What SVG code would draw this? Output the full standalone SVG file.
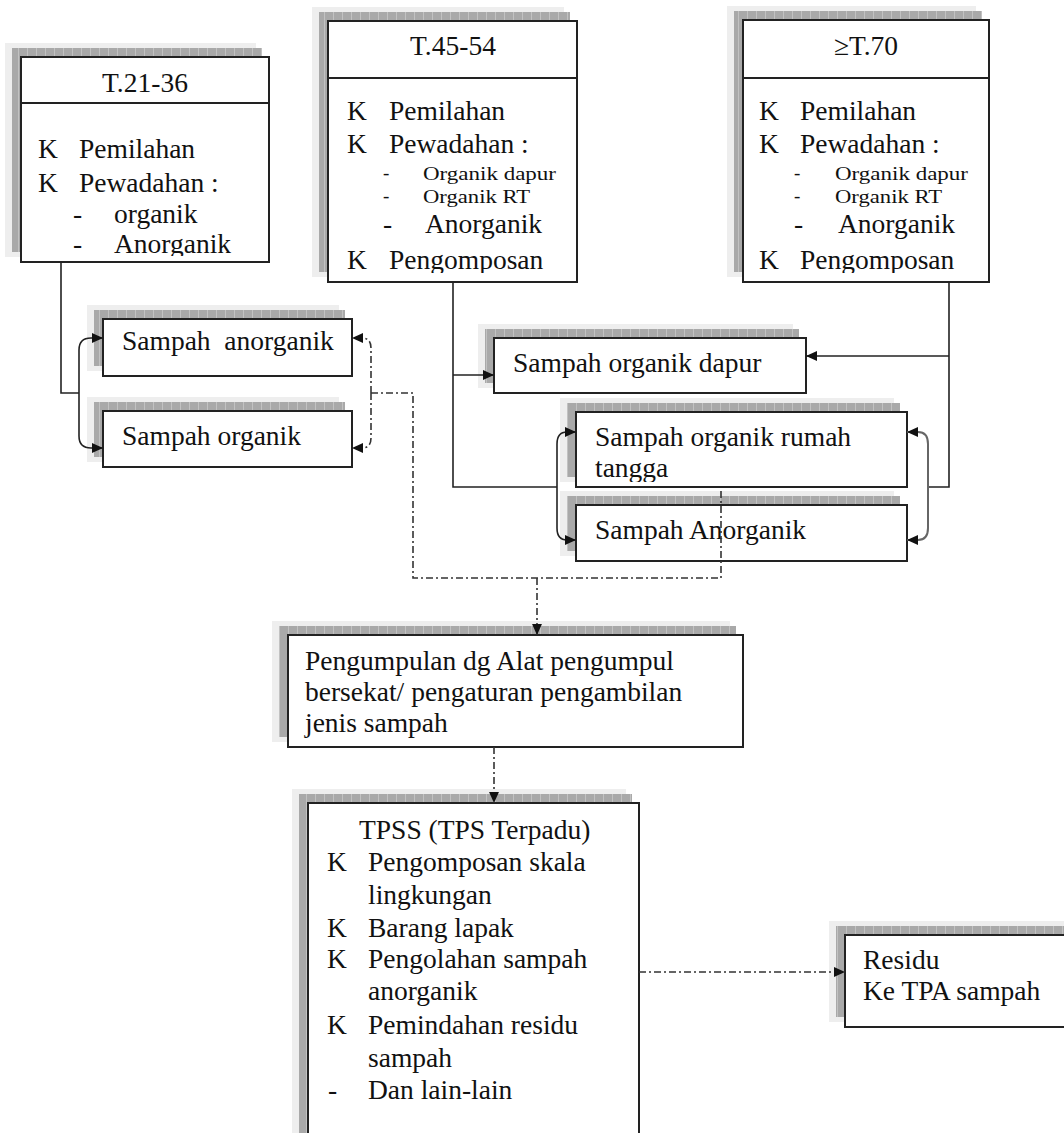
<svg xmlns="http://www.w3.org/2000/svg" width="1064" height="1133" viewBox="0 0 1064 1133">
<style>
text{font-family:"Liberation Serif","Times New Roman",serif;font-size:27.5px;fill:#111}
.sm{font-size:19px}
.t{text-anchor:middle}
.box{fill:#fff;stroke:#222;stroke-width:2}
.sh1{fill:#eeeeee}
.sh2{fill:url(#shpat)}
.ln{fill:none;stroke:#222;stroke-width:1.6}
.ln2{fill:none;stroke:#666;stroke-width:2}
.dd{fill:none;stroke:#333;stroke-width:1.6;stroke-dasharray:7 3 2 3}
</style>
<defs>
<pattern id="shpat" width="9" height="9" patternUnits="userSpaceOnUse">
<rect width="9" height="9" fill="#a9a9a9"/>
<rect width="1" height="9" fill="#c2c2c2"/>
</pattern>
<marker id="ar" viewBox="0 0 10 9" refX="10" refY="4.5" markerWidth="11" markerHeight="10" orient="auto" markerUnits="userSpaceOnUse">
<path d="M0,0 L10,4.5 L0,9 z" fill="#111"/>
</marker>
<clipPath id="c1"><rect x="21" y="57" width="248" height="199"/></clipPath>
<clipPath id="c2"><rect x="328" y="21" width="249" height="252"/></clipPath>
<clipPath id="c3"><rect x="743" y="20" width="246" height="253"/></clipPath>
<clipPath id="c7"><rect x="576" y="412" width="331" height="70"/></clipPath>
</defs>

<g id="node-t2136">
<rect class="sh1" x="5" y="43" width="251" height="214"/>
<rect class="sh2" x="12" y="48" width="250" height="204"/>
<rect class="box" x="21" y="57" width="248" height="205"/>
<line x1="21" y1="103" x2="269" y2="103" stroke="#222" stroke-width="2"/>
<text class="t" x="145" y="92">T.21-36</text>
<g clip-path="url(#c1)">
<text x="38" y="158">K</text><text x="79" y="158">Pemilahan</text>
<text x="38" y="192">K</text><text x="79" y="192">Pewadahan :</text>
<text x="73" y="223">-</text><text x="114" y="223">organik</text>
<text x="73" y="253">-</text><text x="114" y="253">Anorganik</text>
</g>
</g>

<g id="node-t4554">
<rect class="sh1" x="312" y="7" width="252" height="270"/>
<rect class="sh2" x="319" y="12" width="251" height="260"/>
<rect class="box" x="328" y="21" width="249" height="261"/>
<line x1="328" y1="78" x2="577" y2="78" stroke="#222" stroke-width="2"/>
<text class="t" x="453" y="55">T.45-54</text>
<g clip-path="url(#c2)">
<text x="347" y="120">K</text><text x="389" y="120">Pemilahan</text>
<text x="347" y="153">K</text><text x="389" y="153">Pewadahan :</text>
<text class="sm" x="383" y="179">-</text><text class="sm" x="423" y="180" textLength="133" lengthAdjust="spacingAndGlyphs">Organik dapur</text>
<text class="sm" x="383" y="202">-</text><text class="sm" x="423" y="203" textLength="107" lengthAdjust="spacingAndGlyphs">Organik RT</text>
<text x="383" y="233">-</text><text x="425" y="233">Anorganik</text>
<text x="347" y="269">K</text><text x="389" y="269">Pengomposan</text>
</g>
</g>

<g id="node-t70">
<rect class="sh1" x="727" y="6" width="249" height="271"/>
<rect class="sh2" x="734" y="11" width="248" height="261"/>
<rect class="box" x="743" y="20" width="246" height="262"/>
<line x1="743" y1="78" x2="989" y2="78" stroke="#222" stroke-width="2"/>
<text class="t" x="866" y="55">≥T.70</text>
<g clip-path="url(#c3)">
<text x="759" y="120">K</text><text x="800" y="120">Pemilahan</text>
<text x="759" y="153">K</text><text x="800" y="153">Pewadahan :</text>
<text class="sm" x="794" y="179">-</text><text class="sm" x="835" y="180" textLength="133" lengthAdjust="spacingAndGlyphs">Organik dapur</text>
<text class="sm" x="794" y="202">-</text><text class="sm" x="835" y="203" textLength="107" lengthAdjust="spacingAndGlyphs">Organik RT</text>
<text x="794" y="233">-</text><text x="838" y="233">Anorganik</text>
<text x="759" y="269">K</text><text x="800" y="269">Pengomposan</text>
</g>
</g>

<g id="node-sampah-anorganik-1">
<rect class="sh1" x="87" y="305" width="252" height="66"/>
<rect class="sh2" x="94" y="310" width="251" height="56"/>
<rect class="box" x="103" y="319" width="249" height="57"/>
<text x="122" y="350" xml:space="preserve">Sampah  anorganik</text>
</g>

<g id="node-sampah-organik-1">
<rect class="sh1" x="87" y="397" width="252" height="65"/>
<rect class="sh2" x="94" y="402" width="251" height="55"/>
<rect class="box" x="103" y="411" width="249" height="56"/>
<text x="122" y="445">Sampah organik</text>
</g>

<g id="node-organik-dapur">
<rect class="sh1" x="478" y="324" width="315" height="64"/>
<rect class="sh2" x="485" y="329" width="314" height="54"/>
<rect class="box" x="494" y="338" width="312" height="55"/>
<text x="513" y="372">Sampah organik dapur</text>
</g>

<g id="node-organik-rt">
<rect class="sh1" x="560" y="398" width="334" height="84"/>
<rect class="sh2" x="567" y="403" width="333" height="74"/>
<rect class="box" x="576" y="412" width="331" height="75"/>
<g clip-path="url(#c7)">
<text x="595" y="446">Sampah organik rumah</text>
<text x="595" y="477">tangga</text>
</g>
</g>

<g id="node-anorganik-2">
<rect class="sh1" x="560" y="491" width="334" height="65"/>
<rect class="sh2" x="567" y="496" width="333" height="55"/>
<rect class="box" x="576" y="505" width="331" height="56"/>
<text x="595" y="539">Sampah Anorganik</text>
</g>

<g id="node-pengumpulan">
<rect class="sh1" x="272" y="621" width="458" height="121"/>
<rect class="sh2" x="279" y="626" width="457" height="111"/>
<rect class="box" x="288" y="635" width="455" height="112"/>
<text x="305" y="670">Pengumpulan dg Alat pengumpul</text>
<text x="305" y="701">bersekat/ pengaturan pengambilan</text>
<text x="305" y="732">jenis sampah</text>
</g>

<g id="node-tpss">
<rect class="sh1" x="292" y="789" width="334" height="360"/>
<rect class="sh2" x="299" y="794" width="333" height="360"/>
<rect class="box" x="308" y="803" width="331" height="360"/>
<text x="359" y="839">TPSS (TPS Terpadu)</text>
<text x="327" y="871">K</text><text x="368" y="871">Pengomposan skala</text>
<text x="368" y="904">lingkungan</text>
<text x="327" y="937">K</text><text x="368" y="937">Barang lapak</text>
<text x="327" y="968">K</text><text x="368" y="968">Pengolahan sampah</text>
<text x="368" y="1000">anorganik</text>
<text x="327" y="1034">K</text><text x="368" y="1034">Pemindahan residu</text>
<text x="368" y="1067">sampah</text>
<text x="328" y="1099">-</text><text x="368" y="1099">Dan lain-lain</text>
</g>

<g id="node-residu">
<rect class="sh1" x="829" y="921" width="250" height="101"/>
<rect class="sh2" x="836" y="926" width="250" height="91"/>
<rect class="box" x="845" y="935" width="240" height="92"/>
<text x="863" y="969">Residu</text>
<text x="863" y="1000">Ke TPA sampah</text>
</g>

<g id="connectors">
<path class="ln" d="M61,262 V393 H79"/>
<path class="ln" d="M79,393 V350 Q79,338 91,338 H103" marker-end="url(#ar)"/>
<path class="ln" d="M79,393 V436 Q79,448 91,448 H103" marker-end="url(#ar)"/>
<path class="dd" d="M371,393 V348 Q371,338 362,338 H352" marker-end="url(#ar)"/>
<path class="dd" d="M371,393 V438 Q371,448 362,448 H352" marker-end="url(#ar)"/>
<path class="dd" d="M371,393 H413 V578 H721 V490"/>
<path class="dd" d="M537,578 V635" marker-end="url(#ar)"/>
<path class="ln" d="M453,282 V487 H557"/>
<path class="ln" d="M453,375 H494" marker-end="url(#ar)"/>
<path class="ln" d="M557,487 V444 Q557,432 567,432 H576" marker-end="url(#ar)"/>
<path class="ln" d="M557,487 V528 Q557,540 567,540 H576" marker-end="url(#ar)"/>
<path class="ln" d="M949,282 V487 H928"/>
<path class="ln" d="M949,356 H806" marker-end="url(#ar)"/>
<path class="ln2" d="M928,487 V444 Q928,432 918,432 H907" marker-end="url(#ar)"/>
<path class="ln2" d="M928,487 V528 Q928,540 918,540 H907" marker-end="url(#ar)"/>
<path class="dd" d="M494,747 V803" marker-end="url(#ar)"/>
<path class="dd" d="M639,972 H845" marker-end="url(#ar)"/>
</g>
</svg>
